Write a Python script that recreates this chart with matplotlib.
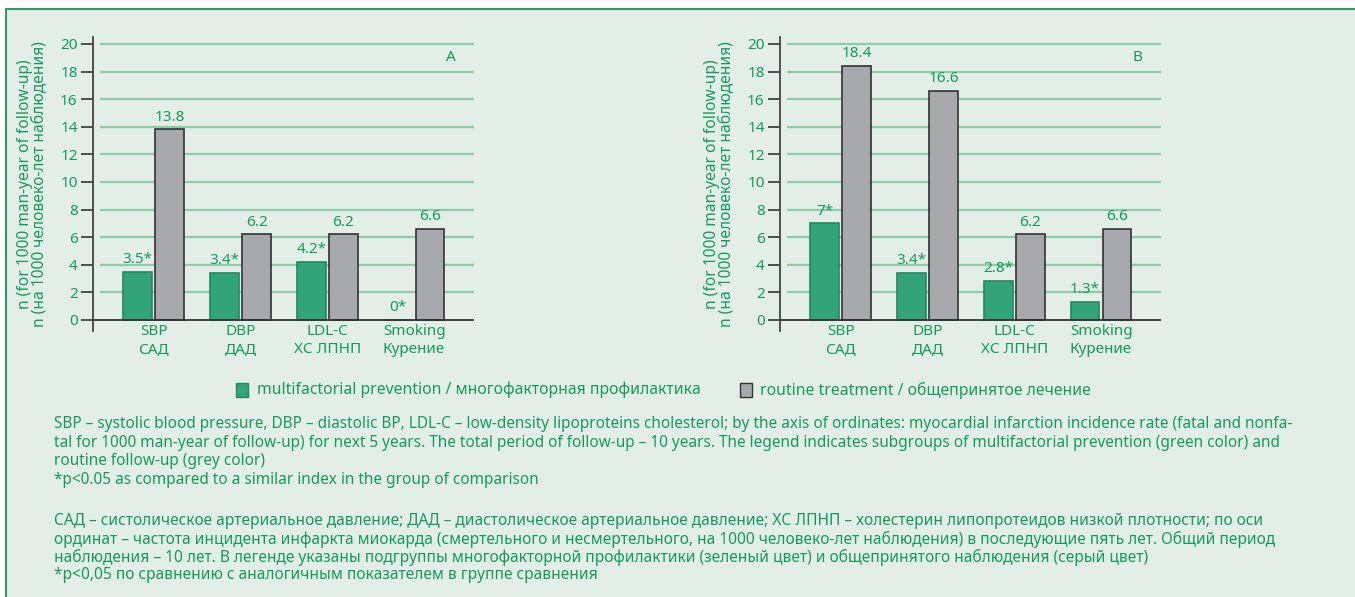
import matplotlib.pyplot as plt
from matplotlib.patches import Rectangle
import numpy as np

plt.rcParams['font.family'] = ['Noto Sans', 'DejaVu Sans']

# data
categories = ['SBP\nСАД', 'DBP\nДАД', 'LDL-C\nХС ЛПНП', 'Smoking\nКурение']
prev_a = [3.5, 3.4, 4.2, 0.0]
routine_a = [13.8, 6.2, 6.2, 6.6]
prev_b = [7.0, 3.4, 2.8, 1.3]
routine_b = [18.4, 16.6, 6.2, 6.6]
prev_labels_a = ['3.5*', '3.4*', '4.2*', '0*']
routine_labels_a = ['13.8', '6.2', '6.2', '6.6']
prev_labels_b = ['7*', '3.4*', '2.8*', '1.3*']
routine_labels_b = ['18.4', '16.6', '6.2', '6.6']
yticks = [0, 2, 4, 6, 8, 10, 12, 14, 16, 18, 20]

bg = '#e2eee6'
green = '#33a47a'
green_edge = '#1f8a5c'
grey = '#a7a9ac'
txt = '#159a5c'
grid_c = '#8ecba8'
border = '#2e9a6a'

W, H = 1355, 597
fig = plt.figure(figsize=(W / 100, H / 100), dpi=100)
fig.patch.set_facecolor('white')

# background panel with green border (top and left)
bg_ax = fig.add_axes([0, 0, 1, 1], zorder=-10)
bg_ax.set_xlim(0, W)
bg_ax.set_ylim(H, 0)
bg_ax.axis('off')
bg_ax.add_patch(Rectangle((6, 9), W, H, facecolor=bg, edgecolor='none'))
bg_ax.plot([6, W], [9, 9], color=border, lw=1.5)
bg_ax.plot([6, 6], [9, H], color=border, lw=1.5)


def panel(left_px, prev, routine, plabels, rlabels, letter):
    ax = fig.add_axes([left_px / W, (H - 331) / H, 381 / W, 294 / H])
    ax.set_facecolor('none')
    x = np.arange(len(categories))
    w = 0.33
    ax.set_xlim(-0.70, 3.69)
    ax.set_ylim(-0.8, 20.5)
    ax.hlines(yticks[1:], -0.62, 3.69, color=grid_c, lw=1.6, zorder=1)
    ax.axhline(0, color='#333333', lw=1.3, zorder=4)
    ax.bar(x - w / 2 - 0.02, prev, w, color=green, edgecolor=green_edge, lw=1.2, zorder=3)
    ax.bar(x + w / 2 + 0.02, routine, w, color=grey, edgecolor='#333333', lw=1.2, zorder=3)
    for xi, v, lab in zip(x, prev, plabels):
        ax.text(xi - w / 2 - 0.02, v + 0.35, lab, ha='center', va='bottom',
                color=txt, fontsize=11)
    for xi, v, lab in zip(x, routine, rlabels):
        ax.text(xi + w / 2 + 0.02, v + 0.35, lab, ha='center', va='bottom',
                color=txt, fontsize=11)
    ax.text(3.42, 19.0, letter, ha='center', va='center', color=txt, fontsize=11)

    for s in ['top', 'right', 'bottom']:
        ax.spines[s].set_visible(False)
    ax.spines['left'].set_color('#444444')
    ax.spines['left'].set_linewidth(1.3)
    ax.set_yticks(yticks)
    ax.tick_params(axis='y', colors='#333333', length=9, width=1.2, labelsize=11,
                   labelcolor=txt, pad=2)
    ax.set_xticks(x)
    ax.set_xticklabels(categories, color=txt, fontsize=11, linespacing=1.3)
    ax.tick_params(axis='x', length=0, pad=-5)
    ax.set_ylabel('n (for 1000 man-year of follow-up)\nn (на 1000 человеко-лет наблюдения)',
                  color=txt, fontsize=11.2, linespacing=0.9, labelpad=9)
    return ax


panel(93, prev_a, routine_a, prev_labels_a, routine_labels_a, 'A')
panel(780, prev_b, routine_b, prev_labels_b, routine_labels_b, 'B')

# legend
bg_ax.add_patch(Rectangle((236, 383), 12, 14, facecolor=green, edgecolor=green_edge, lw=1))
bg_ax.text(257, 390, 'multifactorial prevention / многофакторная профилактика',
           color=txt, fontsize=11.3, va='center', ha='left')
bg_ax.add_patch(Rectangle((740, 383), 12, 14, facecolor=grey, edgecolor='#333333', lw=1))
bg_ax.text(760, 390, 'routine treatment / общепринятое лечение',
           color=txt, fontsize=11.3, va='center', ha='left')

caption_en = [
    'SBP – systolic blood pressure, DBP – diastolic BP, LDL-C – low-density lipoproteins cholesterol; by the axis of ordinates: myocardial infarction incidence rate (fatal and nonfa-',
    'tal for 1000 man-year of follow-up) for next 5 years. The total period of follow-up – 10 years. The legend indicates subgroups of multifactorial prevention (green color) and',
    'routine follow-up (grey color)',
    '*p<0.05 as compared to a similar index in the group of comparison',
]
caption_ru = [
    'САД – систолическое артериальное давление; ДАД – диастолическое артериальное давление; ХС ЛПНП – холестерин липопротеидов низкой плотности; по оси',
    'ординат – частота инцидента инфаркта миокарда (смертельного и несмертельного, на 1000 человеко-лет наблюдения) в последующие пять лет. Общий период',
    'наблюдения – 10 лет. В легенде указаны подгруппы многофакторной профилактики (зеленый цвет) и общепринятого наблюдения (серый цвет)',
    '*p<0,05 по сравнению с аналогичным показателем в группе сравнения',
]
for i, line in enumerate(caption_en):
    bg_ax.text(54, 424 + 18.7 * i, line, color=txt, fontsize=11.05, va='center', ha='left')
for i, line in enumerate(caption_ru):
    bg_ax.text(54, 521 + 18 * i, line, color=txt, fontsize=11.15, va='center', ha='left')

fig.savefig('out.png', dpi=100, facecolor=fig.get_facecolor())
